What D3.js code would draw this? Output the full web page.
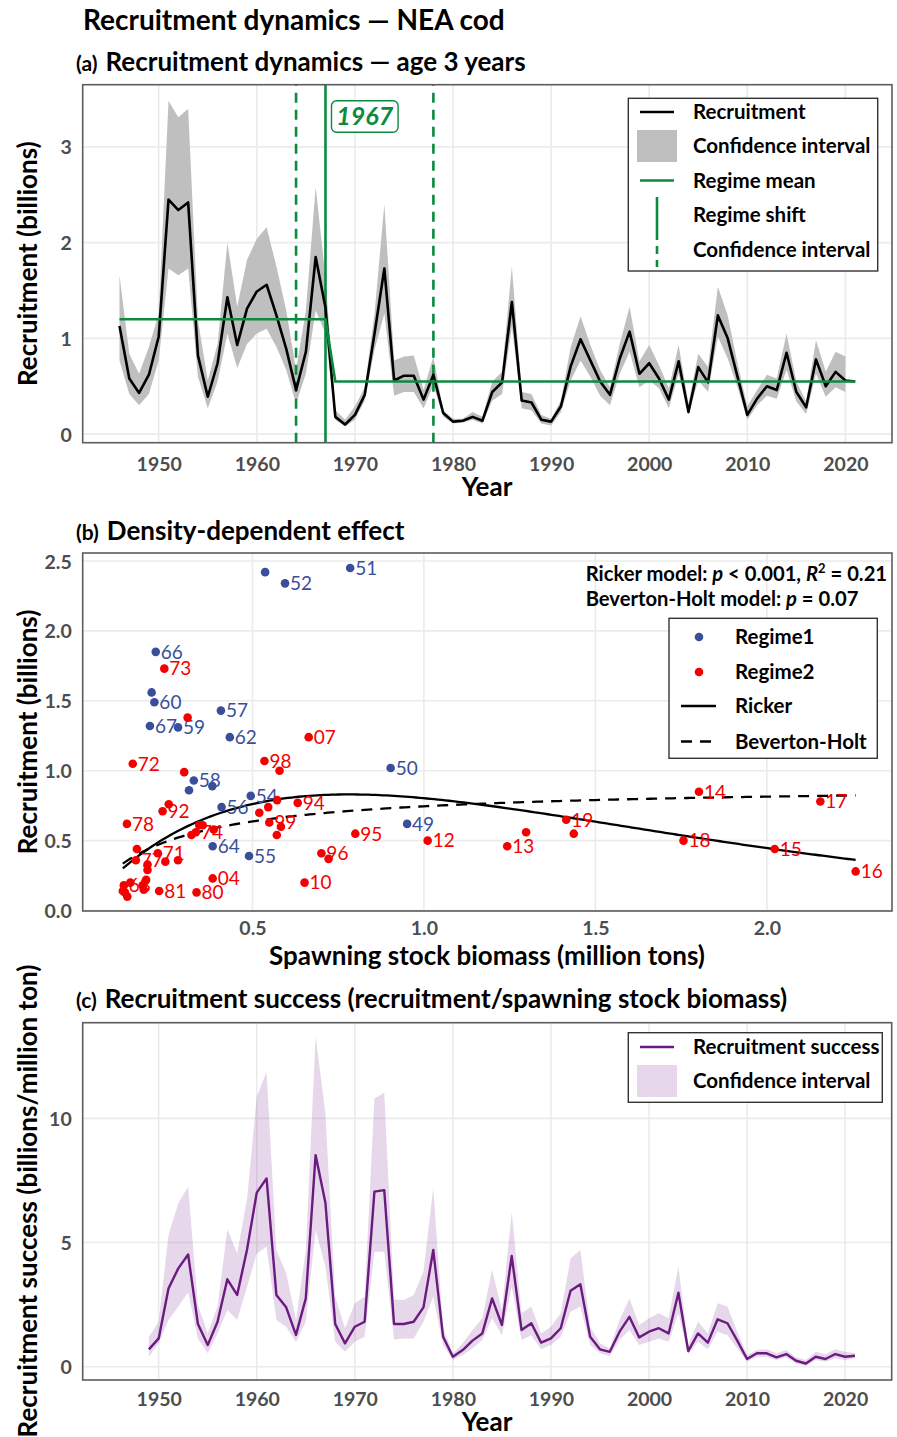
<!DOCTYPE html>
<html>
<head>
<meta charset="utf-8">
<script src="https://cdn.jsdelivr.net/npm/d3@7"></script>
<style>
  body { margin: 0; background: #fff; }
  svg { display: block; font-family: Lato, "Open Sans", sans-serif; }
</style>
</head>
<body>
<svg id="chart" width="897" height="1437"></svg>
<script>
// ---------- data ----------
const years = [1946,1947,1948,1949,1950,1951,1952,1953,1954,1955,1956,1957,1958,1959,1960,1961,1962,1963,1964,1965,
  1966,1967,1968,1969,1970,1971,1972,1973,1974,1975,1976,1977,1978,1979,1980,1981,1982,1983,1984,1985,
  1986,1987,1988,1989,1990,1991,1992,1993,1994,1995,1996,1997,1998,1999,2000,2001,2002,2003,2004,2005,
  2006,2007,2008,2009,2010,2011,2012,2013,2014,2015,2016,2017,2018,2019,2020,2021];

// recruitment at age 3 (billions), 1946-2021
const recruitment = [1.13,0.58,0.43,0.62,1.02,2.45,2.34,2.42,0.82,0.39,0.74,1.43,0.93,1.31,1.49,1.56,1.24,0.89,0.46,0.86,
  1.85,1.32,0.18,0.10,0.20,0.41,1.05,1.73,0.56,0.61,0.61,0.36,0.62,0.22,0.13,0.14,0.18,0.14,0.44,0.54,
  1.38,0.35,0.33,0.15,0.13,0.29,0.71,0.99,0.77,0.55,0.41,0.79,1.07,0.63,0.74,0.58,0.36,0.76,0.23,0.70,
  0.54,1.24,1.00,0.60,0.20,0.37,0.50,0.46,0.85,0.44,0.28,0.78,0.50,0.65,0.56,0.55];

// confidence interval of recruitment, 1946-2020
const recLower = [0.77,0.42,0.30,0.42,0.77,1.73,1.66,1.73,0.60,0.27,0.55,1.05,0.69,0.94,1.05,1.10,0.91,0.67,0.32,0.63,
  1.29,1.05,0.15,0.08,0.15,0.35,0.88,1.26,0.40,0.44,0.44,0.27,0.51,0.18,0.11,0.12,0.15,0.11,0.35,0.42,
  1.12,0.27,0.25,0.11,0.09,0.23,0.56,0.77,0.60,0.40,0.30,0.63,0.86,0.49,0.56,0.48,0.27,0.63,0.21,0.56,
  0.44,1.02,0.79,0.49,0.15,0.30,0.40,0.37,0.67,0.34,0.21,0.63,0.39,0.49,0.44];
const recUpper = [1.66,0.84,0.63,0.91,1.26,3.48,3.31,3.40,1.19,0.56,0.94,2.00,1.33,1.82,2.04,2.16,1.75,1.29,0.67,1.29,
  2.58,1.64,0.25,0.15,0.29,0.49,1.26,2.40,0.77,0.81,0.82,0.46,0.81,0.25,0.16,0.16,0.23,0.18,0.55,0.65,
  1.75,0.44,0.42,0.20,0.16,0.35,0.91,1.23,0.93,0.67,0.49,0.94,1.33,0.76,0.93,0.72,0.48,0.93,0.32,0.84,
  0.70,1.54,1.24,0.74,0.29,0.46,0.62,0.58,1.05,0.55,0.34,0.98,0.65,0.86,0.81];

// regime means (STARS) and regime shift with its confidence interval
const regimeStart = [1946, 1968];
const regimeEnd   = [1967, 2021];
const regimeMean  = [1.20, 0.55];
const shiftYear = 1967;
const shiftCI = [1964, 1978];

// spawning stock biomass (million tons), 1949-2021
const ssbYears = years.slice(3);
const ssb = [0.951,0.903,0.785,0.595,0.537,0.495,0.490,0.410,0.408,0.329,
  0.283,0.214,0.206,0.434,0.383,0.384,0.315,0.218,0.201,0.125,
  0.135,0.144,0.224,0.151,0.243,0.335,0.345,0.355,0.160,0.134,
  0.190,0.337,0.228,0.180,0.122,0.163,0.322,0.311,0.246,0.194,
  0.183,0.128,0.194,0.238,0.301,0.632,0.800,0.701,0.572,0.535,
  0.549,0.546,0.387,0.283,0.256,0.384,0.520,0.571,0.664,0.579,
  0.583,0.652,0.722,1.011,1.243,1.802,2.023,2.259,2.156,1.757,
  1.415,1.298,1.437];
const labelledYears = [1949,1950,1951,1952,1954,1955,1956,1957,1958,1959,1960,1962,1964,1966,1967,1968,1971,1972,1973,1974,
  1977,1978,1980,1981,1992,1994,1995,1996,1998,1999,2004,2007,2010,2012,2013,2014,2015,2016,2017,2018,2019];

// stock-recruitment model parameters
const ricker = { a: 2.89, b: 1.28 };       // R = a S exp(-b S)
const bevHolt = { a: 4.40, b: 4.90 };      // R = a S / (1 + b S)

// recruitment success (billions / million ton), 1949-2021
const success = [0.70,1.14,3.15,3.96,4.52,1.72,0.87,1.81,3.52,2.89,
  4.70,7.01,7.58,2.89,2.39,1.28,2.75,8.52,6.60,1.72,
  0.94,1.61,1.81,7.05,7.11,1.72,1.72,1.81,2.39,4.70,
  1.21,0.40,0.67,1.05,1.34,2.75,1.68,4.46,1.48,1.75,
  0.97,1.14,1.55,3.06,3.32,1.21,0.70,0.60,1.41,2.01,
  1.18,1.41,1.55,1.34,2.98,0.63,1.34,0.97,1.91,1.75,
  1.05,0.31,0.54,0.54,0.38,0.51,0.24,0.13,0.40,0.31,
  0.51,0.40,0.44];
const sucLower = [0.40,0.95,1.88,2.42,3.00,1.14,0.54,1.34,2.28,1.88,
  3.20,4.56,4.83,1.88,1.61,0.99,1.81,5.50,4.03,1.00,
  0.60,1.00,1.21,4.63,4.63,1.10,1.14,1.14,1.81,2.82,
  0.87,0.27,0.47,0.74,1.08,1.95,1.27,3.22,1.08,1.27,
  0.70,0.87,1.21,2.21,2.42,0.87,0.54,0.43,1.08,1.48,
  0.87,1.00,1.14,1.00,2.15,0.50,1.00,0.70,1.41,1.27,
  0.74,0.20,0.40,0.40,0.27,0.38,0.13,0.03,0.27,0.20,
  0.34,0.27,0.34];
const sucUpper = [1.20,1.81,5.30,6.58,7.25,2.47,1.35,2.42,5.53,4.56,
  6.72,10.87,11.88,4.70,3.76,1.88,4.70,13.29,10.20,2.82,
  1.55,2.55,2.82,10.80,11.03,2.71,2.69,2.89,3.83,7.19,
  1.55,0.54,0.94,1.48,1.95,3.90,2.28,6.24,2.15,2.42,
  1.34,1.61,2.15,4.36,4.70,1.61,0.94,0.74,1.88,2.75,
  1.68,1.95,2.15,1.95,4.03,0.87,1.81,1.34,2.55,2.42,
  1.41,0.47,0.67,0.70,0.54,0.67,0.38,0.27,0.60,0.50,
  0.70,0.60,0.54];

const yearTicks = [1950,1960,1970,1980,1990,2000,2010,2020];

// ---------- styles ----------
const gridC = '#ebebeb', frameC = '#5c5c5c', tickC = '#4d4d4d';
const green = '#0b8a40', purple = '#6b1a80', blue = '#3a4f9b', red = '#f40000', bandGrey = '#bfbfbf';
const tickFS = 19.5, titleFS = 26, legendFS = 20.5, pointLabelFS = 19;

const svg = d3.select('#chart');
svg.append('rect').attr('width', 897).attr('height', 1437).attr('fill', '#fff');

// ---------- helpers ----------
function grid(xs, ys, xt, yt) {
  const g = svg.append('g');
  const [x0, x1] = xs.range(), [y0, y1] = ys.range();
  g.selectAll('.gx').data(xt).join('line')
    .attr('x1', d => xs(d)).attr('x2', d => xs(d)).attr('y1', y0).attr('y2', y1)
    .attr('stroke', gridC).attr('stroke-width', 1.6);
  g.selectAll('.gy').data(yt).join('line')
    .attr('y1', d => ys(d)).attr('y2', d => ys(d)).attr('x1', x0).attr('x2', x1)
    .attr('stroke', gridC).attr('stroke-width', 1.6);
}
function frame(xs, ys) {
  const [x0, x1] = xs.range(), [y0, y1] = ys.range();
  svg.append('rect').attr('x', x0).attr('y', y1).attr('width', x1 - x0).attr('height', y0 - y1)
    .attr('fill', 'none').attr('stroke', frameC).attr('stroke-width', 1.6);
}
function styleTicks(sel) {
  sel.select('.domain').remove();
  sel.selectAll('text').attr('fill', tickC).style('font-size', tickFS + 'px').style('font-weight', 700)
    .style('font-family', 'Lato, sans-serif');
}
function bottomAxis(xs, ys, ticks, fmt, baseline) {
  const y0 = ys.range()[0];
  const g = svg.append('g').attr('transform', `translate(0,${y0})`)
    .call(d3.axisBottom(xs).tickValues(ticks).tickFormat(fmt).tickSize(0));
  styleTicks(g);
  g.selectAll('text').attr('y', baseline - y0).attr('dy', 0);
}
function leftAxis(xs, ys, ticks, fmt) {
  const x0 = xs.range()[0];
  const g = svg.append('g').attr('transform', `translate(${x0},0)`)
    .call(d3.axisLeft(ys).tickValues(ticks).tickFormat(fmt).tickSize(0).tickPadding(11));
  styleTicks(g);
  g.selectAll('text').attr('dy', '0.36em');
}
function yTitle(text, cy) {
  svg.append('text').attr('transform', `translate(37,${cy}) rotate(-90)`)
    .attr('text-anchor', 'middle').style('font-size', titleFS + 'px').style('font-weight', 700).text(text);
}
function xTitle(text, cx, baseline) {
  svg.append('text').attr('x', cx).attr('y', baseline).attr('text-anchor', 'middle')
    .style('font-size', titleFS + 'px').style('font-weight', 700).text(text);
}
function panelTitle(tag, text, x, baseline) {
  const t = svg.append('text').attr('x', x).attr('y', baseline).style('font-weight', 700);
  t.append('tspan').style('font-size', '21px').text(tag);
  t.append('tspan').attr('dx', 8).style('font-size', titleFS + 'px').text(text);
}
function legendBox(x, y, w, h) {
  svg.append('rect').attr('x', x).attr('y', y).attr('width', w).attr('height', h)
    .attr('fill', '#fff').attr('stroke', '#333').attr('stroke-width', 1.4);
}
function legendText(x, y, text) {
  svg.append('text').attr('x', x).attr('y', y).attr('dy', '0.35em')
    .style('font-size', legendFS + 'px').style('font-weight', 700).text(text);
}

// ---------- main title ----------
svg.append('text').attr('x', 83).attr('y', 30).style('font-size', '28px').style('font-weight', 700)
  .text('Recruitment dynamics — NEA cod');

// ================= (a) recruitment dynamics =================
panelTitle('(a)', 'Recruitment dynamics — age 3 years', 76, 71);
const ax = d3.scaleLinear().domain([1942.25, 2024.75]).range([82.7, 892]);
const ay = d3.scaleLinear().domain([-0.09, 3.65]).range([442.7, 84.7]);
grid(ax, ay, yearTicks, [0, 1, 2, 3]);

const recData = years.map((y, i) => ({ year: y, r: recruitment[i], lo: recLower[i], hi: recUpper[i] }));
svg.append('path').datum(recData.filter(d => d.lo !== undefined))
  .attr('fill', bandGrey)
  .attr('d', d3.area().x(d => ax(d.year)).y0(d => ay(d.lo)).y1(d => ay(d.hi)));

// regime shift and its confidence interval
shiftCI.forEach(y => {
  svg.append('line').attr('x1', ax(y)).attr('x2', ax(y)).attr('y1', ay.range()[0]).attr('y2', ay.range()[1])
    .attr('stroke', green).attr('stroke-width', 2.6).attr('stroke-dasharray', '10,7');
});
svg.append('line').attr('x1', ax(shiftYear)).attr('x2', ax(shiftYear)).attr('y1', ay.range()[0]).attr('y2', ay.range()[1])
  .attr('stroke', green).attr('stroke-width', 2.6);

svg.append('path').datum(recData)
  .attr('fill', 'none').attr('stroke', '#000').attr('stroke-width', 2.6).attr('stroke-linejoin', 'round')
  .attr('d', d3.line().x(d => ax(d.year)).y(d => ay(d.r)));

const meanPts = [];
regimeMean.forEach((m, i) => { meanPts.push([regimeStart[i], m], [regimeEnd[i], m]); });
svg.append('path').datum(meanPts)
  .attr('fill', 'none').attr('stroke', green).attr('stroke-width', 2.6)
  .attr('d', d3.line().x(d => ax(d[0])).y(d => ay(d[1])));

// shift year label
const lblX = ax(shiftYear) + 6;
svg.append('rect').attr('x', lblX).attr('y', 100.7).attr('width', 66.6).attr('height', 31.6).attr('rx', 5)
  .attr('fill', '#fff').attr('stroke', green).attr('stroke-width', 1.4);
svg.append('text').attr('x', lblX + 33.3).attr('y', 125).attr('text-anchor', 'middle')
  .attr('fill', green).style('font-size', '25px').style('font-weight', 700).style('font-style', 'italic')
  .text(String(shiftYear));

frame(ax, ay);
bottomAxis(ax, ay, yearTicks, d3.format('d'), 471);
leftAxis(ax, ay, [0, 1, 2, 3], d3.format('d'));
xTitle('Year', 487, 496);
yTitle('Recruitment (billions)', 263.7);

// legend (a)
legendBox(628.3, 98.3, 249.4, 172.7);
svg.append('line').attr('x1', 640).attr('x2', 674).attr('y1', 112).attr('y2', 112).attr('stroke', '#000').attr('stroke-width', 2.6);
svg.append('rect').attr('x', 637).attr('y', 130).attr('width', 40).attr('height', 32).attr('fill', bandGrey);
svg.append('line').attr('x1', 640).attr('x2', 674).attr('y1', 180.5).attr('y2', 180.5).attr('stroke', green).attr('stroke-width', 2.6);
svg.append('line').attr('x1', 657).attr('x2', 657).attr('y1', 197).attr('y2', 232).attr('stroke', green).attr('stroke-width', 2.6);
svg.append('line').attr('x1', 657).attr('x2', 657).attr('y1', 232).attr('y2', 267).attr('stroke', green).attr('stroke-width', 2.6).attr('stroke-dasharray', '8,6');
['Recruitment', 'Confidence interval', 'Regime mean', 'Regime shift', 'Confidence interval']
  .forEach((t, i) => legendText(693, [112, 146, 180.5, 215, 250][i], t));

// ================= (b) density-dependent effect =================
panelTitle('(b)', 'Density-dependent effect', 76, 540);
const bx = d3.scaleLinear().domain([0.005, 2.365]).range([82.7, 892]);
const by = d3.scaleLinear().domain([-0.003, 2.557]).range([911, 553]);
grid(bx, by, [0.5, 1.0, 1.5, 2.0], [0, 0.5, 1.0, 1.5, 2.0, 2.5]);

const recByYear = new Map(years.map((y, i) => [y, recruitment[i]]));
const pts = ssbYears.map((y, i) => ({ year: y, s: ssb[i], r: recByYear.get(y), regime: y <= shiftYear ? 1 : 2 }));
const ptColor = d => d.regime === 1 ? blue : red;

// model curves over the observed SSB range
const sRange = d3.extent(ssb);
const sGrid = d3.range(sRange[0], sRange[1] + 1e-9, (sRange[1] - sRange[0]) / 200);
const curveLine = d3.line().x(d => bx(d[0])).y(d => by(d[1]));
svg.append('path').datum(sGrid.map(s => [s, ricker.a * s * Math.exp(-ricker.b * s)]))
  .attr('fill', 'none').attr('stroke', '#000').attr('stroke-width', 2.3).attr('d', curveLine);
svg.append('path').datum(sGrid.map(s => [s, bevHolt.a * s / (1 + bevHolt.b * s)]))
  .attr('fill', 'none').attr('stroke', '#000').attr('stroke-width', 2.3).attr('stroke-dasharray', '11,8').attr('d', curveLine);

// year labels, then points on top
svg.append('g').selectAll('text').data(pts.filter(d => labelledYears.includes(d.year))).join('text')
  .attr('x', d => bx(d.s) + 5).attr('y', d => by(d.r)).attr('dy', '0.36em')
  .attr('fill', ptColor).style('font-size', pointLabelFS + 'px')
  .text(d => String(d.year).slice(2));
svg.append('g').selectAll('circle').data(pts).join('circle')
  .attr('cx', d => bx(d.s)).attr('cy', d => by(d.r)).attr('r', 4.3).attr('fill', ptColor);

frame(bx, by);
bottomAxis(bx, by, [0.5, 1.0, 1.5, 2.0], d3.format('.1f'), 935);
leftAxis(bx, by, [0, 0.5, 1.0, 1.5, 2.0, 2.5], d3.format('.1f'));
xTitle('Spawning stock biomass (million tons)', 487, 965);
yTitle('Recruitment (billions)', 732);

// model statistics
const stat1 = svg.append('text').attr('x', 585.7).attr('y', 581).style('font-size', '20.2px').style('font-weight', 700);
stat1.append('tspan').text('Ricker model: ');
stat1.append('tspan').style('font-style', 'italic').text('p');
stat1.append('tspan').text(' < 0.001, ');
stat1.append('tspan').style('font-style', 'italic').text('R');
stat1.append('tspan').attr('dy', -8).style('font-size', '13px').text('2');
stat1.append('tspan').attr('dy', 8).text(' = 0.21');
const stat2 = svg.append('text').attr('x', 585.7).attr('y', 606).style('font-size', '20.2px').style('font-weight', 700);
stat2.append('tspan').text('Beverton-Holt model: ');
stat2.append('tspan').style('font-style', 'italic').text('p');
stat2.append('tspan').text(' = 0.07');

// legend (b)
legendBox(669, 618.3, 208.3, 140);
svg.append('circle').attr('cx', 699).attr('cy', 637).attr('r', 4.3).attr('fill', blue);
svg.append('circle').attr('cx', 699).attr('cy', 672).attr('r', 4.3).attr('fill', red);
svg.append('line').attr('x1', 681).attr('x2', 716).attr('y1', 706).attr('y2', 706).attr('stroke', '#000').attr('stroke-width', 2.3);
svg.append('line').attr('x1', 681).attr('x2', 716).attr('y1', 741.5).attr('y2', 741.5).attr('stroke', '#000').attr('stroke-width', 2.3).attr('stroke-dasharray', '11,8');
['Regime1', 'Regime2', 'Ricker', 'Beverton-Holt'].forEach((t, i) => legendText(735, [637, 672, 706, 741.5][i], t));

// ================= (c) recruitment success =================
panelTitle('(c)', 'Recruitment success (recruitment/spawning stock biomass)', 76, 1008);
const cx = d3.scaleLinear().domain([1942.25, 2024.75]).range([82.7, 891.7]);
const cy = d3.scaleLinear().domain([-0.535, 13.85]).range([1380, 1022.7]);
grid(cx, cy, yearTicks, [0, 5, 10]);

const sucData = ssbYears.map((y, i) => ({ year: y, v: success[i], lo: sucLower[i], hi: sucUpper[i] }));
svg.append('path').datum(sucData)
  .attr('fill', purple).attr('fill-opacity', 0.17)
  .attr('d', d3.area().x(d => cx(d.year)).y0(d => cy(d.lo)).y1(d => cy(d.hi)));
svg.append('path').datum(sucData)
  .attr('fill', 'none').attr('stroke', purple).attr('stroke-width', 2.4).attr('stroke-linejoin', 'round')
  .attr('d', d3.line().x(d => cx(d.year)).y(d => cy(d.v)));

frame(cx, cy);
bottomAxis(cx, cy, yearTicks, d3.format('d'), 1406);
leftAxis(cx, cy, [0, 5, 10], d3.format('d'));
xTitle('Year', 487, 1431);
yTitle('Recruitment success (billions/million ton)', 1201);

// legend (c)
legendBox(628.3, 1032.7, 254, 69.6);
svg.append('line').attr('x1', 640).attr('x2', 674).attr('y1', 1047).attr('y2', 1047).attr('stroke', purple).attr('stroke-width', 2.4);
svg.append('rect').attr('x', 637).attr('y', 1065).attr('width', 40).attr('height', 32).attr('fill', purple).attr('fill-opacity', 0.17);
legendText(693, 1047, 'Recruitment success');
legendText(693, 1081, 'Confidence interval');
</script>
</body>
</html>
